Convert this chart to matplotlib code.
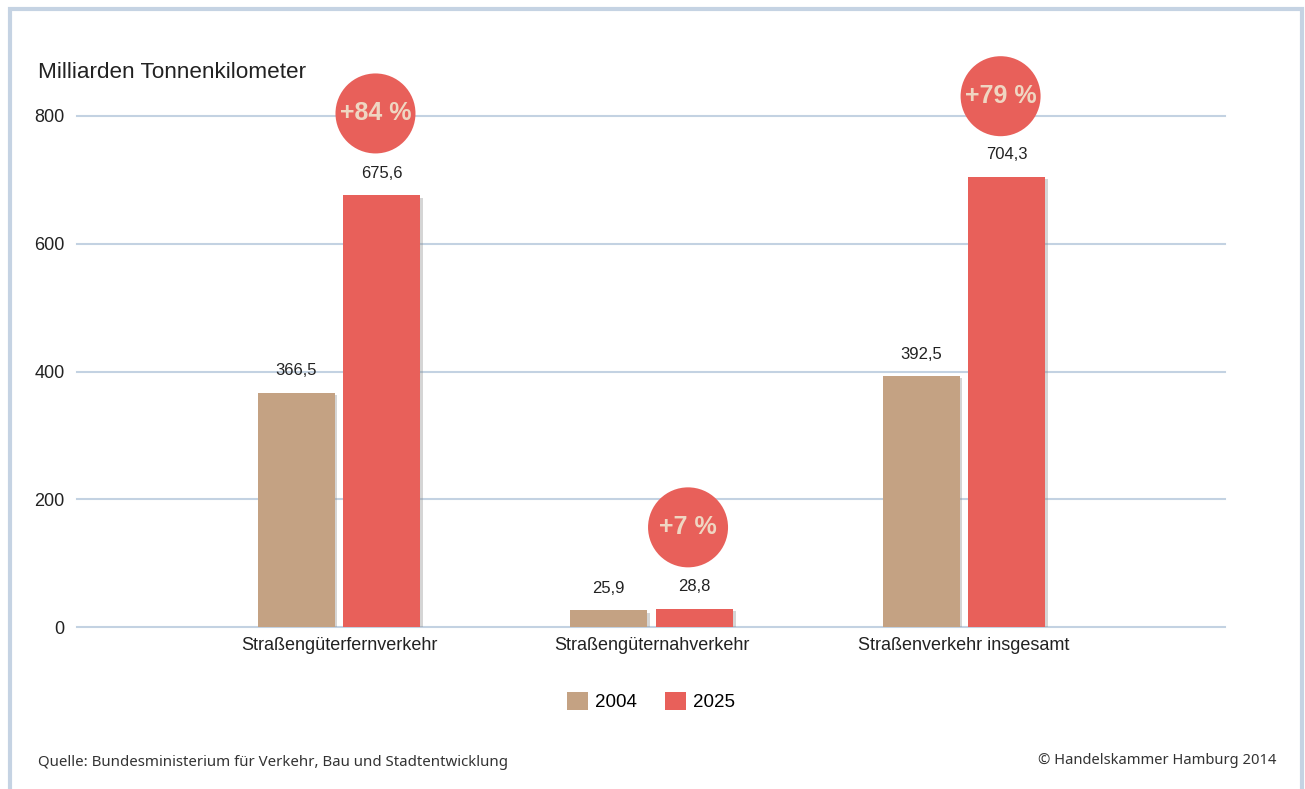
import matplotlib
matplotlib.use("Agg")
import matplotlib.pyplot as plt
import matplotlib.patheffects as pe
from matplotlib.patches import Rectangle
import numpy as np

# Daten
kategorien = ["Straßengüterfernverkehr", "Straßengüternahverkehr", "Straßenverkehr insgesamt"]
werte_2004 = [366.5, 25.9, 392.5]
werte_2025 = [675.6, 28.8, 704.3]
label_2004 = ["366,5", "25,9", "392,5"]
label_2025 = ["675,6", "28,8", "704,3"]
zuwachs = ["+84 %", "+7 %", "+79 %"]
kreis_y = [804, 156, 831]
y_ticks = [0, 200, 400, 600, 800]

farbe_2004 = "#c4a283"
farbe_2025 = "#e8605a"
gitter = "#c3d2e2"
textfarbe = "#222222"

plt.rcParams['font.family'] = ['Liberation Sans Narrow', 'Liberation Sans', 'DejaVu Sans']

fig = plt.figure(figsize=(13.05, 7.89), dpi=100)
ax = fig.add_axes([77/1305, 1-627/789, 1148/1305, 511/789])

x = np.arange(len(kategorien))
breite = 0.246
versatz = 0.137
schatten = [pe.SimplePatchShadow(offset=(2, -1.5), shadow_rgbFace="#888888", alpha=0.35), pe.Normal()]

b1 = ax.bar(x - versatz, werte_2004, breite, color=farbe_2004, label="2004", zorder=3)
b2 = ax.bar(x + versatz, werte_2025, breite, color=farbe_2025, label="2025", zorder=3)
for b in list(b1) + list(b2):
    b.set_path_effects(schatten)

for i in range(len(kategorien)):
    ax.annotate(label_2004[i], (x[i] - versatz, werte_2004[i]), xytext=(0, 16), textcoords="offset points",
                ha="center", va="center", fontsize=12, color=textfarbe)
    ax.annotate(label_2025[i], (x[i] + versatz, werte_2025[i]), xytext=(0, 16), textcoords="offset points",
                ha="center", va="center", fontsize=12, color=textfarbe)
    ax.plot([x[i] + 0.117], [kreis_y[i]], marker="o", markersize=57.6, color=farbe_2025,
            markeredgewidth=0, clip_on=False, zorder=5,
            path_effects=[pe.SimpleLineShadow(offset=(2.5, -2.5), shadow_color="#777777", alpha=0.4), pe.Normal()])
    ax.text(x[i] + 0.117, kreis_y[i], zuwachs[i], ha="center", va="center", fontsize=18, fontweight="bold",
            color="#efd6c2", zorder=6, clip_on=False, family=['Liberation Sans', 'DejaVu Sans'])

ax.set_xlim(-0.838, 2.835)
ax.set_ylim(0, 800)
ax.set_yticks(y_ticks)
ax.set_xticks(x)
ax.set_xticklabels(kategorien, fontsize=13, color=textfarbe)
ax.tick_params(axis="both", length=0, labelsize=13, labelcolor=textfarbe)
ax.tick_params(axis="y", pad=9)
ax.tick_params(axis="x", pad=7)
for s in ax.spines.values():
    s.set_visible(False)
for t in y_ticks:
    ax.axhline(t, color=gitter, lw=1.5, zorder=1, clip_on=False)

leg = ax.legend(loc="upper center", bbox_to_anchor=(0.5, -0.094), ncol=2, frameon=False, fontsize=13.5,
                handlelength=1.1, handleheight=1.1, handletextpad=0.4, columnspacing=1.5)
for h in leg.legend_handles:
    h.set_path_effects([])

fig.text(38/1305, 1-72/789, "Milliarden Tonnenkilometer", fontsize=16.2, color=textfarbe, va="center", ha="left")
fig.text(38/1305, 1-763/789, "Quelle: Bundesministerium für Verkehr, Bau und Stadtentwicklung", fontsize=10.8,
         color="#333333", va="center", ha="left", family=['Noto Sans', 'DejaVu Sans'])
fig.text(1276/1305, 1-761/789, "© Handelskammer Hamburg 2014", fontsize=10.6,
         color="#333333", va="center", ha="right", family=['Noto Sans', 'DejaVu Sans'])

# Rahmen
fig.patches.append(Rectangle((9.5/1305, -0.05), (1302-9.5)/1305, 1.05 - 8.5/789, transform=fig.transFigure,
                             fill=False, edgecolor="#c5d3e3", lw=3))

fig.savefig("out.png", dpi=100)
